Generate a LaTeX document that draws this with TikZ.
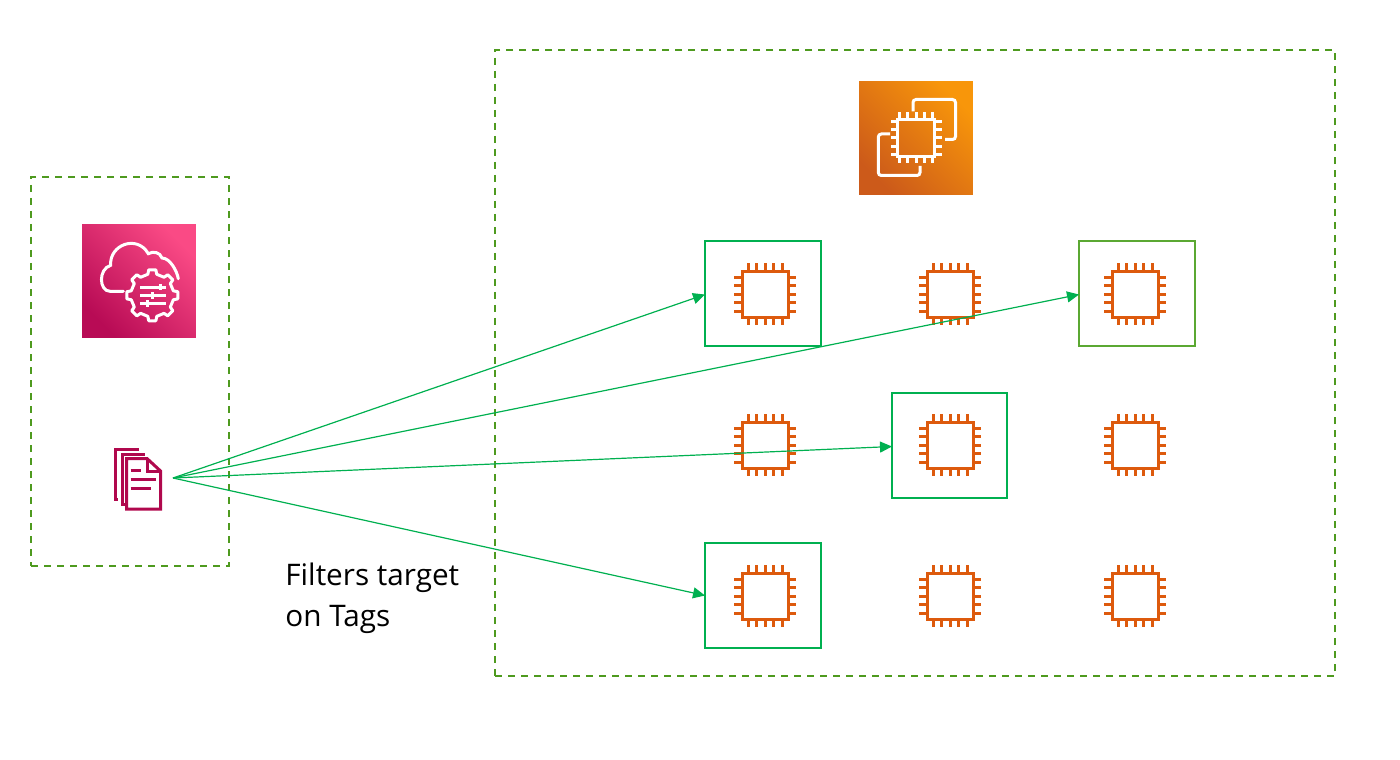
\documentclass[tikz,border=0pt]{standalone}
\usepackage{fontspec}
\setmainfont{Open Sans}
\usepackage{tikz}
\usetikzlibrary{arrows.meta}
\definecolor{linkgreen}{HTML}{00B050}
\definecolor{zonegreen}{HTML}{4E9A1F}
\definecolor{picklime}{HTML}{5BA832}
\definecolor{chiporange}{HTML}{DD5A0D}
\definecolor{docpink}{HTML}{B0084D}
\definecolor{pinkdark}{HTML}{B80B55}
\definecolor{pinklight}{HTML}{FA4A85}
\definecolor{orangedark}{HTML}{CC5A1A}
\definecolor{orangelight}{HTML}{F8960A}
\begin{document}
\begin{tikzpicture}[
		x=0.5pt,y=-0.5pt,
		>={Stealth[length=6pt,width=5.5pt,inset=0pt]},
		zone/.style={draw=zonegreen,line width=0.8pt,dash pattern=on 3.65pt off 2.85pt,inner sep=0pt},
		pick/.style={draw=linkgreen,line width=1pt,inner sep=0pt,outer sep=0pt,minimum width=58pt,minimum height=52.5pt},
		link/.style={->,draw=linkgreen,line width=0.6pt},
		icon/.style={inner sep=0pt,minimum size=56.8pt},
		glyph/.style={draw=white,line width=1.5pt},
		chip/.pic={
			\draw [pic actions] (-23,-23) rectangle (23,23);
			\foreach \k in {-17,-8.5,0,8.5,17} {
				\draw [pic actions] (\k,-23) -- (\k,-31);
				\draw [pic actions] (\k,23) -- (\k,31);
				\draw [pic actions] (-23,\k) -- (-31,\k);
				\draw [pic actions] (23,\k) -- (31,\k);
			}
		},
		bigchip/.pic={
			\draw [pic actions] (-18.3,-18.3) rectangle (18.3,18.3);
			\foreach \k in {-16.4,-8.2,0,8.2,16.4} {
				\draw [pic actions] (\k,-18.3) -- (\k,-25.5);
				\draw [pic actions] (\k,18.3) -- (\k,25.5);
				\draw [pic actions] (-18.3,\k) -- (-25.5,\k);
				\draw [pic actions] (18.3,\k) -- (25.5,\k);
			}
			\draw [pic actions,rounded corners=1.5pt] (-3,-26.5) -- (-3,-38.5) -- (39.5,-38.5) -- (39.5,1.5) -- (29,1.5);
			\draw [pic actions,rounded corners=1.5pt] (-26,-4) -- (-37.7,-4) -- (-37.7,37.5) -- (4,37.5) -- (4,28);
		},
		cloudgear/.pic={
			\draw [pic actions,line cap=round] (-15.7,10.3) -- (-29,10.3)
				.. controls (-40,10.3) and (-41,-12) .. (-28.3,-15.7)
				.. controls (-30,-36) and (-2,-47) .. (9.3,-27.3)
				.. controls (14,-30) and (21,-29) .. (23,-23)
				.. controls (31,-23) and (38,-10) .. (39.3,-2.3);
			\begin{scope}[shift={(13.3,14.3)}]
				\draw [pic actions,line join=round] (-12:21.5)
					\foreach \a in {0,45,...,315} {
						-- (\a-12:21.5) -- (\a-8:25.7) -- (\a+8:25.7) -- (\a+12:21.5)
					} -- cycle;
				\draw [pic actions] (-12,-8.3) -- (14,-8.3);
				\draw [pic actions] (-12,0) -- (14,0);
				\draw [pic actions] (-12,8.3) -- (14,8.3);
				\draw [pic actions] (8,-11.5) -- (8,-5);
				\draw [pic actions] (0,-3.2) -- (0,3.2);
				\draw [pic actions] (-5,5) -- (-5,11.5);
			\end{scope}
		},
		docstack/.pic={
			\draw [pic actions] (-27.5,12) -- (-30,12) -- (-30,-38) -- (-6.5,-38);
			\draw [pic actions] (-19.5,17.5) -- (-23,17.5) -- (-23,-32.5) -- (0,-32.5);
			\draw [pic actions] (-18.5,-28.5) -- (2,-28.5) -- (15.5,-16) -- (15.5,22) -- (-18.5,22) -- cycle;
			\draw [pic actions] (2,-28.5) -- (2,-16) -- (15.5,-16);
			\draw [pic actions] (-14.5,-16.5) -- (-4,-16.5);
			\draw [pic actions] (-14.5,-7.5) -- (11,-7.5);
			\draw [pic actions] (-14.5,1.5) -- (6,1.5);
		}
	]
	\useasboundingbox (0,0) rectangle (1400,759);

	\node [zone,minimum width=99pt,minimum height=194.5pt] (config) at (130,371.5) {};
	\node [zone,minimum width=420pt,minimum height=313pt] (fleet) at (915,363) {};

	\node [icon,bottom color=pinkdark,top color=pinklight,shading angle=-45] (ssm) at (139,281) {};
	\node [icon,bottom color=orangedark,top color=orangelight,shading angle=-45] (ec2) at (916,138) {};
	\pic [glyph] (cloud) at (ssm.center) {cloudgear};
	\pic [glyph] (multi) at (ec2.center) {bigchip};

	\pic [draw=docpink,line width=1.5pt] (docstack) at (145,487) {docstack};

	\pic [draw=chiporange,line width=1.5pt] (chip1) at (765,294) {chip};
	\pic [draw=chiporange,line width=1.5pt] (chip2) at (950,294) {chip};
	\pic [draw=chiporange,line width=1.5pt] (chip3) at (1135,294) {chip};
	\pic [draw=chiporange,line width=1.5pt] (chip4) at (765,445) {chip};
	\pic [draw=chiporange,line width=1.5pt] (chip5) at (950,445) {chip};
	\pic [draw=chiporange,line width=1.5pt] (chip6) at (1135,445) {chip};
	\pic [draw=chiporange,line width=1.5pt] (chip7) at (765,596) {chip};
	\pic [draw=chiporange,line width=1.5pt] (chip8) at (950,596) {chip};
	\pic [draw=chiporange,line width=1.5pt] (chip9) at (1135,596) {chip};

	\node [pick] (pick1) at (763,293.5) {};
	\node [pick,draw=picklime] (pick2) at (1137,293.5) {};
	\node [pick,minimum width=57.5pt] (pick3) at (949.5,445.5) {};
	\node [pick] (pick4) at (763,595.5) {};

	\coordinate (docs) at (173,478);
	\node [anchor=north west,align=left,inner sep=0pt,font=\fontsize{14.85pt}{20.5pt}\selectfont] (filter) at (285,563) {Filters target\\on Tags};

	\draw [link] (docs) -- (pick1.181.5);
	\draw [link] (docs) -- (pick2.181.5);
	\draw [link] (docs) -- (pick3.181.5);
	\draw [link] (docs) -- (pick4.west);
\end{tikzpicture}
\end{document}
